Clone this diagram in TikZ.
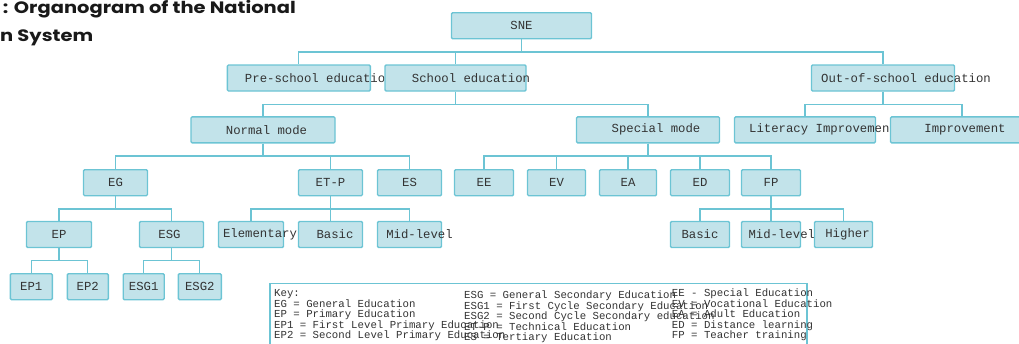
\documentclass[tikz,border=0pt]{standalone}
\usepackage{fontspec}
\setmonofont{Liberation Mono}
\newfontfamily\titlefont{Poppins}
\definecolor{boxfill}{HTML}{C2E3EA}
\definecolor{boxline}{HTML}{6CC4D4}
\definecolor{inktext}{HTML}{333333}

\tikzset{
  unit/.style={draw=boxline, fill=boxfill, line width=1.4pt, rounded corners=1.2pt,
    minimum height=26pt, inner sep=0pt},
  lbl/.style={font=\ttfamily\fontsize{12.3}{14}\selectfont, text=inktext, inner sep=0pt},
  link/.style={draw=boxline, line width=1.3pt},
  keyline/.style={font=\ttfamily\fontsize{10.7}{10.5}\selectfont, text=inktext,
    inner sep=0pt, anchor=base west},
  titletxt/.style={font=\titlefont\bfseries\fontsize{16.5}{18}\selectfont, text=black!90,
    inner sep=0pt, transform shape, xscale=1.18}
}

\begin{document}
\begin{tikzpicture}[x=1pt, y=-1pt]
  \useasboundingbox (0,0) rectangle (1019,343);
  \clip (0,0) rectangle (1019,343);

  % title (cut off at the left)
  \node[titletxt, anchor=base east] (title1) at (296,13.8) {: Organogram of the National};
  \node[titletxt, anchor=base west] (title2) at (0,41.5) {n System};

  % level 1 and 2
  \node[unit, minimum width=140pt, label={[lbl]center:SNE}] (sne) at (521.5,25.75) {};
  \node[unit, minimum width=143pt, label={[lbl, xshift=20]center:Pre-school education}] (pre) at (298.8,78) {};
  \node[unit, minimum width=141pt, label={[lbl, xshift=15.5]center:School education}] (school) at (455.5,78) {};
  \node[unit, minimum width=143pt, label={[lbl, xshift=23]center:Out-of-school education}] (out) at (883,78) {};

  % level 3
  \node[unit, minimum width=144pt, label={[lbl, xshift=3.5]center:Normal mode}] (normal) at (263,129.8) {};
  \node[unit, minimum width=143pt, label={[lbl, xshift=8]center:Special mode}] (special) at (648,129.8) {};
  \node[unit, minimum width=141pt, label={[lbl, xshift=18]center:Literacy Improvement}] (literacy) at (805,129.8) {};
  \node[unit, minimum width=143pt, label={[lbl, xshift=3]center:Improvement}] (improve) at (962,129.8) {};

  % level 4
  \node[unit, minimum width=64pt, label={[lbl]center:EG}] (eg) at (115.5,182.7) {};
  \node[unit, minimum width=64pt, label={[lbl]center:ET-P}] (etp) at (330.5,182.7) {};
  \node[unit, minimum width=64pt, label={[lbl]center:ES}] (es) at (409.5,182.7) {};
  \node[unit, minimum width=59pt, label={[lbl]center:EE}] (ee) at (484,182.7) {};
  \node[unit, minimum width=58pt, label={[lbl]center:EV}] (ev) at (556.5,182.7) {};
  \node[unit, minimum width=57pt, label={[lbl]center:EA}] (ea) at (628,182.7) {};
  \node[unit, minimum width=59pt, label={[lbl]center:ED}] (ed) at (700,182.7) {};
  \node[unit, minimum width=59pt, label={[lbl]center:FP}] (fp) at (771,182.7) {};

  % level 5
  \node[unit, minimum width=65pt, label={[lbl]center:EP}] (ep) at (59,234.5) {};
  \node[unit, minimum width=64pt, label={[lbl, xshift=-2]center:ESG}] (esg) at (171.5,234.5) {};
  \node[unit, minimum width=65pt, label={[lbl, xshift=9]center:Elementary}] (elem) at (251,234.5) {};
  \node[unit, minimum width=64pt, label={[lbl, xshift=4.5]center:Basic}] (basic) at (330.5,234.5) {};
  \node[unit, minimum width=64pt, label={[lbl, xshift=10]center:Mid-level}] (mid) at (409.5,234.5) {};
  \node[unit, minimum width=59pt, label={[lbl]center:Basic}] (fpbasic) at (700,234.5) {};
  \node[unit, minimum width=59pt, label={[lbl, xshift=10.8]center:Mid-level}] (fpmid) at (771,234.5) {};
  \node[unit, minimum width=58pt, label={[lbl, xshift=4]center:Higher}] (higher) at (843.5,234.5) {};

  % level 6
  \node[unit, minimum width=42pt, label={[lbl]center:EP1}] (ep1) at (31.3,286.7) {};
  \node[unit, minimum width=41pt, label={[lbl]center:EP2}] (ep2) at (87.8,286.7) {};
  \node[unit, minimum width=41pt, label={[lbl]center:ESG1}] (esg1) at (143.7,286.7) {};
  \node[unit, minimum width=43pt, label={[lbl]center:ESG2}] (esg2) at (199.8,286.7) {};

  % connectors
  \foreach \p/\c in {sne/pre, sne/school, sne/out, school/normal, school/special,
      out/literacy, out/improve, normal/eg, normal/etp, normal/es,
      special/ee, special/ev, special/ea, special/ed, special/fp,
      eg/ep, eg/esg, etp/elem, etp/basic, etp/mid, fp/fpbasic, fp/fpmid, fp/higher,
      ep/ep1, ep/ep2, esg/esg1, esg/esg2}
    \draw[link] (\p.south) -- ++(0,12.5) -| (\c.north);

  % key
  \node[draw=boxline, line width=1.2pt, fill=white, minimum width=537pt, minimum height=80pt,
    inner sep=0pt, anchor=north west] (key) at (269.3,282.7) {};
  \foreach \t [count=\i] in {Key:, EG = General Education, EP = Primary Education,
      EP1 = First Level Primary Education, EP2 = Second Level Primary Education}
    \node[keyline] (keya-\i) at (274,296.7+10.5*\i-10.5) {\t};
  \foreach \t [count=\i] in {ESG = General Secondary Education, ESG1 = First Cycle Secondary Education,
      ESG2 = Second Cycle Secondary education, ET-P = Technical Education, ES = Tertiary Education}
    \node[keyline] (keyb-\i) at (464,298.7+10.5*\i-10.5) {\t};
  \foreach \t [count=\i] in {EE - Special Education, EV = Vocational Education, EA = Adult Education,
      ED = Distance learning, FP = Teacher training}
    \node[keyline] (keyc-\i) at (671.7,296.7+10.5*\i-10.5) {\t};
\end{tikzpicture}
\end{document}
